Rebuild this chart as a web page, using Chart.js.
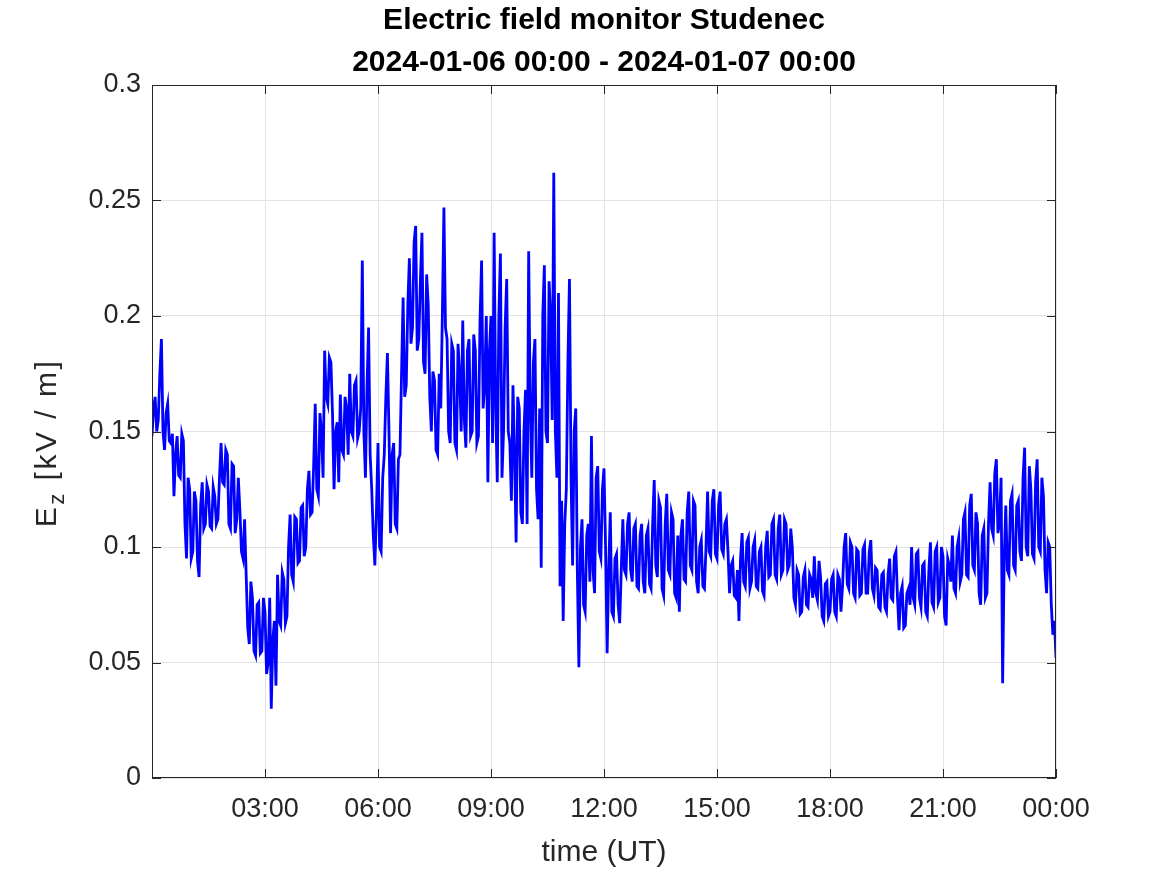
<!DOCTYPE html>
<html>
<head>
<meta charset="utf-8">
<title>Electric field monitor Studenec</title>
<script src="https://cdn.jsdelivr.net/npm/chart.js@4.4.1/dist/chart.umd.min.js"></script>
<style>
  html, body { margin: 0; padding: 0; background: #fff; }
  #wrap { width: 1167px; height: 875px; }
</style>
</head>
<body>
<div id="wrap"><canvas id="ez-chart" width="1167" height="875"></canvas></div>
<script>
const titleLines = ['Electric field monitor Studenec', '2024-01-06 00:00 - 2024-01-07 00:00'];
const xAxisTitle = 'time (UT)';
const xTickHours = [3, 6, 9, 12, 15, 18, 21, 24];
const xTickLabels = ['03:00', '06:00', '09:00', '12:00', '15:00', '18:00', '21:00', '00:00'];
const yTickValues = [0, 0.05, 0.1, 0.15, 0.2, 0.25, 0.3];
const sampleStepMin = 5;

// Ez in kV/m at every full 5 minutes from 00:00 (one row per hour)
const ezValues = [
    0.148, 0.165, 0.155, 0.190, 0.142, 0.162, 0.145, 0.122, 0.148, 0.130, 0.146, 0.095,
    0.125, 0.098, 0.120, 0.087, 0.128, 0.110, 0.124, 0.108, 0.122, 0.112, 0.145, 0.127,
    0.140, 0.108, 0.135, 0.112, 0.116, 0.095, 0.088, 0.058, 0.078, 0.053, 0.076, 0.055,
    0.072, 0.050, 0.030, 0.068, 0.088, 0.066, 0.086, 0.070, 0.114, 0.085, 0.112, 0.094,
    0.118, 0.100, 0.133, 0.115, 0.162, 0.122, 0.150, 0.185, 0.162, 0.180, 0.125, 0.154,
    0.166, 0.140, 0.160, 0.175, 0.148, 0.172, 0.150, 0.224, 0.130, 0.195, 0.125, 0.092,
    0.145, 0.098, 0.140, 0.184, 0.106, 0.145, 0.108, 0.140, 0.208, 0.170, 0.225, 0.195,
    0.239, 0.190, 0.236, 0.175, 0.205, 0.150, 0.172, 0.140, 0.160, 0.247, 0.190, 0.145,
    0.185, 0.142, 0.175, 0.198, 0.143, 0.190, 0.150, 0.185, 0.148, 0.224, 0.170, 0.128,
    0.200, 0.236, 0.128, 0.227, 0.150, 0.216, 0.145, 0.170, 0.102, 0.160, 0.110, 0.168,
    0.228, 0.130, 0.190, 0.112, 0.091, 0.222, 0.145, 0.200, 0.262, 0.130, 0.083, 0.068,
    0.125, 0.216, 0.092, 0.160, 0.048, 0.112, 0.072, 0.110, 0.148, 0.080, 0.135, 0.095,
    0.134, 0.054, 0.115, 0.070, 0.097, 0.067, 0.112, 0.088, 0.115, 0.085, 0.110, 0.082,
    0.110, 0.080, 0.108, 0.082, 0.129, 0.087, 0.117, 0.079, 0.123, 0.088, 0.112, 0.078,
    0.072, 0.112, 0.085, 0.124, 0.090, 0.118, 0.080, 0.103, 0.082, 0.124, 0.096, 0.125,
    0.095, 0.124, 0.097, 0.112, 0.080, 0.094, 0.078, 0.068, 0.106, 0.083, 0.104, 0.085,
    0.103, 0.082, 0.100, 0.079, 0.107, 0.088, 0.112, 0.086, 0.114, 0.090, 0.110, 0.092,
    0.100, 0.075, 0.088, 0.072, 0.090, 0.074, 0.086, 0.096, 0.077, 0.087, 0.068, 0.085,
    0.072, 0.088, 0.070, 0.086, 0.083, 0.106, 0.082, 0.100, 0.078, 0.098, 0.080, 0.101,
    0.080, 0.103, 0.079, 0.090, 0.073, 0.089, 0.072, 0.095, 0.077, 0.098, 0.064, 0.083,
    0.066, 0.082, 0.100, 0.075, 0.098, 0.074, 0.093, 0.070, 0.102, 0.074, 0.100, 0.078,
    0.096, 0.066, 0.092, 0.105, 0.080, 0.104, 0.088, 0.115, 0.087, 0.123, 0.090, 0.110,
    0.075, 0.108, 0.080, 0.128, 0.105, 0.138, 0.110, 0.041, 0.118, 0.088, 0.123, 0.090,
    0.120, 0.094, 0.143, 0.096, 0.125, 0.095, 0.138, 0.098, 0.122, 0.080, 0.100, 0.062,
    0.052
];

// Ez in kV/m half way between those samples (xx:x2.5), same layout
const ezValuesMid = [
    0.160, 0.150, 0.175, 0.150, 0.158, 0.146, 0.149, 0.140, 0.131, 0.149, 0.110, 0.130,
    0.095, 0.124, 0.094, 0.118, 0.108, 0.127, 0.109, 0.126, 0.110, 0.130, 0.128, 0.142,
    0.110, 0.136, 0.106, 0.130, 0.098, 0.112, 0.065, 0.085, 0.055, 0.075, 0.054, 0.078,
    0.045, 0.078, 0.060, 0.040, 0.068, 0.089, 0.067, 0.100, 0.088, 0.113, 0.093, 0.117,
    0.096, 0.125, 0.114, 0.135, 0.125, 0.158, 0.130, 0.165, 0.182, 0.158, 0.150, 0.128,
    0.142, 0.165, 0.140, 0.150, 0.170, 0.147, 0.160, 0.150, 0.170, 0.140, 0.105, 0.115,
    0.100, 0.130, 0.165, 0.150, 0.140, 0.110, 0.138, 0.175, 0.165, 0.205, 0.188, 0.232,
    0.185, 0.215, 0.180, 0.218, 0.165, 0.176, 0.142, 0.175, 0.200, 0.195, 0.150, 0.188,
    0.145, 0.188, 0.150, 0.155, 0.185, 0.148, 0.192, 0.145, 0.198, 0.160, 0.200, 0.185,
    0.145, 0.160, 0.200, 0.130, 0.195, 0.150, 0.120, 0.140, 0.165, 0.115, 0.150, 0.110,
    0.160, 0.180, 0.125, 0.160, 0.200, 0.150, 0.215, 0.155, 0.150, 0.210, 0.120, 0.110,
    0.180, 0.130, 0.150, 0.090, 0.100, 0.075, 0.105, 0.085, 0.090, 0.130, 0.098, 0.125,
    0.100, 0.090, 0.072, 0.095, 0.075, 0.090, 0.090, 0.110, 0.090, 0.108, 0.083, 0.105,
    0.085, 0.105, 0.084, 0.110, 0.092, 0.120, 0.082, 0.110, 0.090, 0.115, 0.080, 0.105,
    0.105, 0.086, 0.115, 0.092, 0.120, 0.085, 0.100, 0.083, 0.100, 0.098, 0.120, 0.097,
    0.118, 0.099, 0.110, 0.098, 0.092, 0.079, 0.090, 0.095, 0.085, 0.102, 0.082, 0.100,
    0.083, 0.098, 0.081, 0.100, 0.087, 0.110, 0.088, 0.108, 0.088, 0.112, 0.090, 0.108,
    0.078, 0.090, 0.071, 0.087, 0.075, 0.088, 0.078, 0.080, 0.094, 0.070, 0.084, 0.070,
    0.086, 0.072, 0.088, 0.072, 0.100, 0.084, 0.102, 0.080, 0.099, 0.079, 0.099, 0.080,
    0.098, 0.082, 0.091, 0.074, 0.088, 0.074, 0.088, 0.078, 0.096, 0.078, 0.080, 0.065,
    0.080, 0.075, 0.078, 0.097, 0.078, 0.092, 0.072, 0.090, 0.076, 0.098, 0.076, 0.100,
    0.070, 0.095, 0.085, 0.082, 0.100, 0.085, 0.112, 0.088, 0.118, 0.092, 0.115, 0.080,
    0.105, 0.078, 0.110, 0.108, 0.132, 0.106, 0.130, 0.095, 0.090, 0.120, 0.092, 0.118,
    0.098, 0.130, 0.100, 0.135, 0.097, 0.128, 0.100, 0.130, 0.090, 0.102, 0.075, 0.068
];

const FONT = '"Liberation Sans", Arial, Helvetica, sans-serif';
const AXIS_COLOR = '#262626';

const points = [];
ezValues.forEach((v, i) => {
    points.push({ x: i * sampleStepMin / 60, y: v });
    if (i < ezValuesMid.length) points.push({ x: (i + 0.5) * sampleStepMin / 60, y: ezValuesMid[i] });
});

// box round the axes, ticks pointing inward, title and y label with subscript
const matlabAxes = {
    id: 'matlabAxes',
    afterDatasetsDraw(chart) {
        const { ctx, chartArea: a, scales } = chart;
        ctx.save();
        ctx.strokeStyle = AXIS_COLOR;
        ctx.lineWidth = 1;
        ctx.strokeRect(a.left + 0.5, a.top + 0.5, a.right - a.left - 1, a.bottom - a.top - 1);
        ctx.beginPath();
        const tl = 9;
        xTickHours.forEach(h => {
            const px = Math.round(scales.x.getPixelForValue(h)) + 0.5;
            ctx.moveTo(px, a.bottom); ctx.lineTo(px, a.bottom - tl);
            ctx.moveTo(px, a.top); ctx.lineTo(px, a.top + tl);
        });
        yTickValues.forEach(v => {
            const py = Math.round(scales.y.getPixelForValue(v)) + 0.5;
            ctx.moveTo(a.left, py); ctx.lineTo(a.left + tl, py);
            ctx.moveTo(a.right, py); ctx.lineTo(a.right - tl, py);
        });
        ctx.stroke();
        ctx.restore();
    },
    afterDraw(chart) {
        const { ctx, chartArea: a } = chart;
        const cx = (a.left + a.right) / 2;
        ctx.save();
        ctx.fillStyle = '#000';
        ctx.font = 'bold 30px ' + FONT;
        ctx.textAlign = 'center';
        ctx.textBaseline = 'middle';
        ctx.fillText(titleLines[0], cx, 21);
        ctx.fillText(titleLines[1], cx, 63);

        // y axis label: E with subscript z, spaced out like the TeX label
        ctx.fillStyle = AXIS_COLOR;
        ctx.translate(48, 443);
        ctx.rotate(-Math.PI / 2);
        ctx.textAlign = 'left';
        ctx.textBaseline = 'middle';
        ctx.letterSpacing = '2.5px';
        const big = '30px ' + FONT, small = '22px ' + FONT;
        ctx.font = big;
        const wE = ctx.measureText('E').width;
        const rest = ' [kV / m]';
        const wRest = ctx.measureText(rest).width;
        ctx.font = small;
        const wZ = ctx.measureText('z').width;
        const x0 = -(wE + wZ + wRest) / 2;
        ctx.font = big;
        ctx.fillText('E', x0, 0);
        ctx.font = small;
        ctx.fillText('z', x0 + wE, 10);
        ctx.font = big;
        ctx.fillText(rest, x0 + wE + wZ, 0);
        ctx.restore();
    }
};

new Chart(document.getElementById('ez-chart').getContext('2d'), {
    type: 'line',
    data: {
        datasets: [{
            data: points,
            borderColor: '#0000ff',
            borderWidth: 2.8,
            pointRadius: 0,
            tension: 0,
            fill: false
        }]
    },
    options: {
        responsive: false,
        animation: false,
        events: [],
        layout: { padding: { top: 85, right: 111, left: 0, bottom: 0 } },
        plugins: { legend: { display: false }, tooltip: { enabled: false } },
        scales: {
            x: {
                type: 'linear',
                min: 0,
                max: 24,
                afterBuildTicks: s => { s.ticks = xTickHours.map(v => ({ value: v })); },
                afterFit: s => { s.height = 97; },
                grid: { color: '#e3e3e3', drawTicks: false },
                border: { display: false },
                ticks: {
                    color: AXIS_COLOR,
                    font: { family: FONT, size: 27 },
                    padding: 15,
                    maxRotation: 0,
                    autoSkip: false,
                    callback: v => xTickLabels[xTickHours.indexOf(v)]
                },
                title: {
                    display: true,
                    text: xAxisTitle,
                    color: AXIS_COLOR,
                    font: { family: FONT, size: 30 },
                    padding: { top: 4 }
                }
            },
            y: {
                min: 0,
                max: 0.3,
                afterBuildTicks: s => { s.ticks = yTickValues.map(v => ({ value: v })); },
                afterFit: s => { s.width = 152; },
                grid: { color: '#e3e3e3', drawTicks: false },
                border: { display: false },
                ticks: {
                    color: AXIS_COLOR,
                    font: { family: FONT, size: 27 },
                    padding: 11,
                    callback: v => String(+v.toFixed(2))
                }
            }
        }
    },
    plugins: [matlabAxes]
});
</script>
</body>
</html>
